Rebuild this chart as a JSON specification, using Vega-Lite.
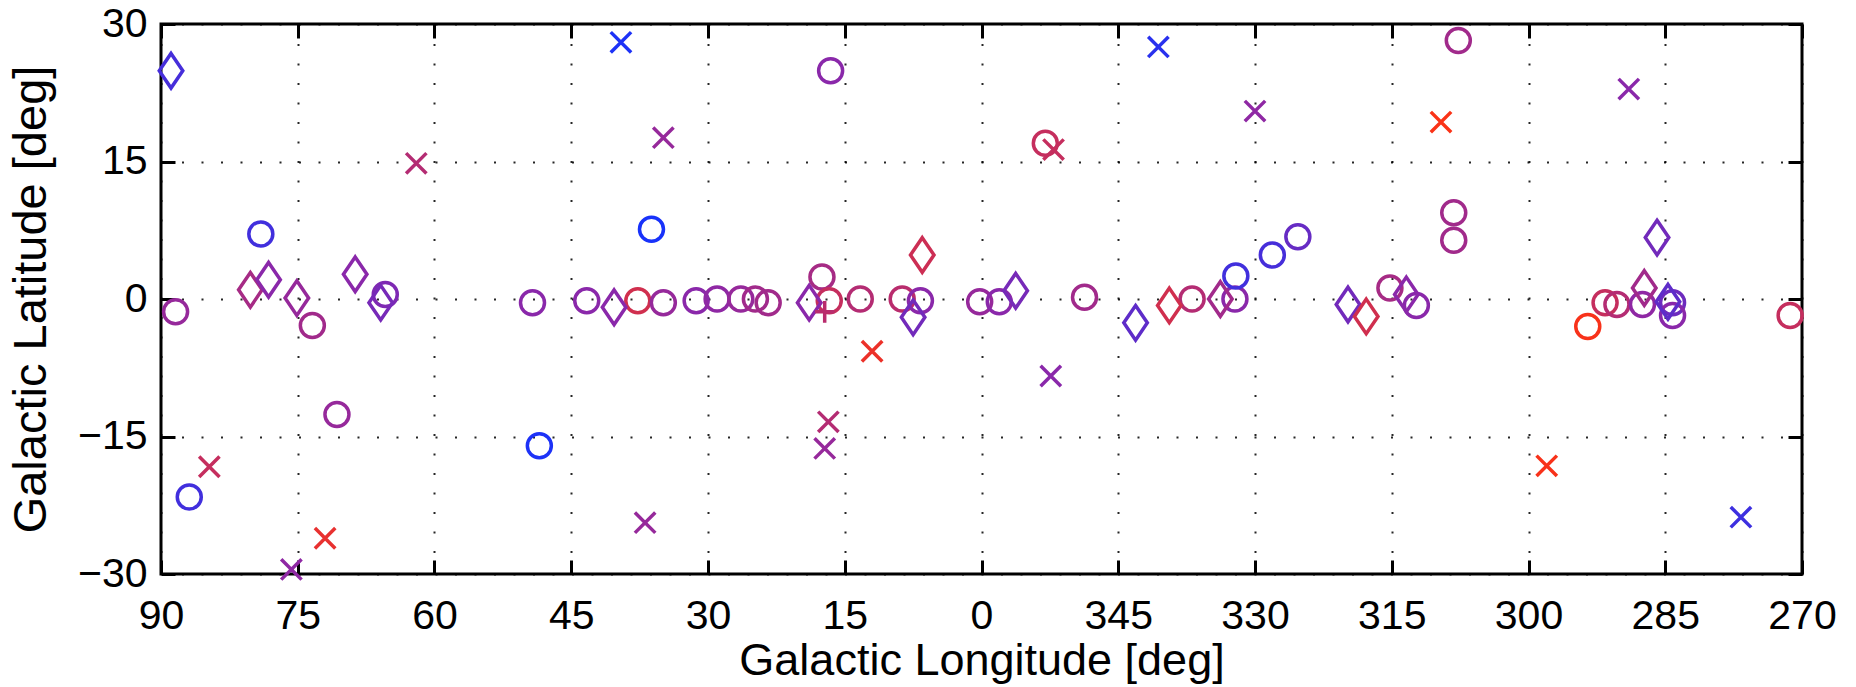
{
  "$schema": "https://vega.github.io/schema/vega-lite/v6.json",
  "width": 1641,
  "height": 550,
  "autosize": "none",
  "padding": {"left": 161, "top": 24, "right": 54, "bottom": 113},
  "background": "white",
  "config": {"view": {"stroke": "black", "strokeWidth": 3}, "font": "Liberation Sans"},
  "data": {"values": [
    {"lon": 88.4, "lat": -1.4, "marker": "circle", "t": 0.55},
    {"lon": 79.05, "lat": 7.1, "marker": "circle", "t": 0.2},
    {"lon": 73.4, "lat": -2.9, "marker": "circle", "t": 0.6},
    {"lon": 70.7, "lat": -12.6, "marker": "circle", "t": 0.55},
    {"lon": 65.4, "lat": 0.5, "marker": "circle", "t": 0.45},
    {"lon": 86.9, "lat": -21.6, "marker": "circle", "t": 0.2},
    {"lon": 49.25, "lat": -0.4, "marker": "circle", "t": 0.5},
    {"lon": 48.5, "lat": -16.0, "marker": "circle", "t": 0.05},
    {"lon": 43.3, "lat": -0.2, "marker": "circle", "t": 0.5},
    {"lon": 37.7, "lat": -0.2, "marker": "circle", "t": 0.8},
    {"lon": 36.2, "lat": 7.6, "marker": "circle", "t": 0.03},
    {"lon": 34.9, "lat": -0.4, "marker": "circle", "t": 0.55},
    {"lon": 31.3, "lat": -0.2, "marker": "circle", "t": 0.5},
    {"lon": 29.0, "lat": 0.0, "marker": "circle", "t": 0.52},
    {"lon": 26.4, "lat": 0.0, "marker": "circle", "t": 0.55},
    {"lon": 24.8, "lat": 0.0, "marker": "circle", "t": 0.6},
    {"lon": 23.4, "lat": -0.4, "marker": "circle", "t": 0.6},
    {"lon": 17.5, "lat": 2.4, "marker": "circle", "t": 0.62},
    {"lon": 16.7, "lat": -0.2, "marker": "circle", "t": 0.75},
    {"lon": 16.55, "lat": 24.9, "marker": "circle", "t": 0.5},
    {"lon": 13.3, "lat": 0.0, "marker": "circle", "t": 0.68},
    {"lon": 8.7, "lat": 0.0, "marker": "circle", "t": 0.7},
    {"lon": 6.7, "lat": -0.2, "marker": "circle", "t": 0.5},
    {"lon": 0.2, "lat": -0.3, "marker": "circle", "t": 0.55},
    {"lon": -1.95, "lat": -0.3, "marker": "circle", "t": 0.5},
    {"lon": -7.0, "lat": 17.0, "marker": "circle", "t": 0.75},
    {"lon": -11.3, "lat": 0.2, "marker": "circle", "t": 0.6},
    {"lon": -23.1, "lat": 0.0, "marker": "circle", "t": 0.68},
    {"lon": -27.8, "lat": 0.0, "marker": "circle", "t": 0.5},
    {"lon": -27.9, "lat": 2.5, "marker": "circle", "t": 0.2},
    {"lon": -31.9, "lat": 4.8, "marker": "circle", "t": 0.22},
    {"lon": -34.7, "lat": 6.8, "marker": "circle", "t": 0.35},
    {"lon": -44.8, "lat": 1.2, "marker": "circle", "t": 0.62},
    {"lon": -47.7, "lat": -0.7, "marker": "circle", "t": 0.5},
    {"lon": -51.8, "lat": 9.4, "marker": "circle", "t": 0.6},
    {"lon": -51.8, "lat": 6.4, "marker": "circle", "t": 0.6},
    {"lon": -52.3, "lat": 28.2, "marker": "circle", "t": 0.6},
    {"lon": -66.5, "lat": -3.0, "marker": "circle", "t": 0.97},
    {"lon": -68.4, "lat": -0.4, "marker": "circle", "t": 0.75},
    {"lon": -69.7, "lat": -0.6, "marker": "circle", "t": 0.68},
    {"lon": -72.5, "lat": -0.6, "marker": "circle", "t": 0.52},
    {"lon": -75.8, "lat": -0.4, "marker": "circle", "t": 0.38},
    {"lon": -75.8, "lat": -1.8, "marker": "circle", "t": 0.5},
    {"lon": -88.7, "lat": -1.8, "marker": "circle", "t": 0.75},
    {"lon": 88.9, "lat": 24.9, "marker": "diamond", "t": 0.22},
    {"lon": 80.2, "lat": 1.0, "marker": "diamond", "t": 0.62},
    {"lon": 78.2, "lat": 2.1, "marker": "diamond", "t": 0.5},
    {"lon": 75.1, "lat": 0.1, "marker": "diamond", "t": 0.55},
    {"lon": 68.7, "lat": 2.7, "marker": "diamond", "t": 0.5},
    {"lon": 65.9, "lat": -0.4, "marker": "diamond", "t": 0.42},
    {"lon": 40.3, "lat": -0.9, "marker": "diamond", "t": 0.5},
    {"lon": 18.9, "lat": -0.4, "marker": "diamond", "t": 0.5},
    {"lon": 7.5, "lat": -2.0, "marker": "diamond", "t": 0.4},
    {"lon": 6.5, "lat": 4.8, "marker": "diamond", "t": 0.78},
    {"lon": -3.75, "lat": 0.9, "marker": "diamond", "t": 0.42},
    {"lon": -16.9, "lat": -2.6, "marker": "diamond", "t": 0.32},
    {"lon": -20.6, "lat": -0.7, "marker": "diamond", "t": 0.8},
    {"lon": -26.2, "lat": 0.0, "marker": "diamond", "t": 0.6},
    {"lon": -40.2, "lat": -0.6, "marker": "diamond", "t": 0.4},
    {"lon": -42.2, "lat": -1.9, "marker": "diamond", "t": 0.8},
    {"lon": -46.6, "lat": 0.5, "marker": "diamond", "t": 0.5},
    {"lon": -72.7, "lat": 1.2, "marker": "diamond", "t": 0.6},
    {"lon": -74.1, "lat": 6.7, "marker": "diamond", "t": 0.4},
    {"lon": -75.3, "lat": -0.3, "marker": "diamond", "t": 0.32},
    {"lon": 84.7, "lat": -18.3, "marker": "x", "t": 0.75},
    {"lon": 75.7, "lat": -29.5, "marker": "x", "t": 0.52},
    {"lon": 72.0, "lat": -26.1, "marker": "x", "t": 0.9},
    {"lon": 62.0, "lat": 14.8, "marker": "x", "t": 0.68},
    {"lon": 39.55, "lat": 28.0, "marker": "x", "t": 0.05},
    {"lon": 36.9, "lat": -24.4, "marker": "x", "t": 0.55},
    {"lon": 34.9, "lat": 17.6, "marker": "x", "t": 0.55},
    {"lon": 16.8, "lat": -13.4, "marker": "x", "t": 0.68},
    {"lon": 17.2, "lat": -16.3, "marker": "x", "t": 0.55},
    {"lon": 12.0, "lat": -5.7, "marker": "x", "t": 0.92},
    {"lon": -7.9, "lat": 16.3, "marker": "x", "t": 0.75},
    {"lon": -7.6, "lat": -8.4, "marker": "x", "t": 0.5},
    {"lon": -19.4, "lat": 27.5, "marker": "x", "t": 0.1},
    {"lon": -30.0, "lat": 20.5, "marker": "x", "t": 0.52},
    {"lon": -50.4, "lat": 19.3, "marker": "x", "t": 0.98},
    {"lon": -62.0, "lat": -18.2, "marker": "x", "t": 0.97},
    {"lon": -71.0, "lat": 22.9, "marker": "x", "t": 0.5},
    {"lon": -83.3, "lat": -23.8, "marker": "x", "t": 0.18},
    {"lon": 17.2, "lat": -1.4, "marker": "plus", "t": 0.7}
  ]},
  "layer": [
    {
      "mark": {"type": "point", "filled": false, "strokeWidth": 3.5, "size": 576, "opacity": 1},
      "encoding": {
        "x": {
          "field": "lon", "type": "quantitative",
          "scale": {"domain": [-90, 90], "reverse": true, "nice": false, "zero": false},
          "axis": {
            "values": [90, 75, 60, 45, 30, 15, 0, -15, -30, -45, -60, -75, -90],
            "labelExpr": "datum.value < 0 ? datum.value + 360 : datum.value",
            "title": "Galactic Longitude [deg]",
            "titleFont": "Liberation Sans", "titleFontSize": 45, "titleFontWeight": "normal", "titleColor": "black", "titlePadding": 2,
            "labelFont": "Liberation Sans", "labelFontSize": 41, "labelColor": "black", "labelPadding": 36, "labelFlush": false, "labelOverlap": false,
            "tickSize": -14, "tickWidth": 3, "tickColor": "black",
            "domain": false,
            "grid": true, "gridDash": [2, 17.5], "gridColor": "black", "gridWidth": 2, "gridOpacity": 0.85
          }
        },
        "y": {
          "field": "lat", "type": "quantitative",
          "scale": {"domain": [-30, 30], "nice": false, "zero": false},
          "axis": {
            "values": [-30, -15, 0, 15, 30],
            "title": "Galactic Latitude [deg]",
            "titleFont": "Liberation Sans", "titleFontSize": 47, "titleFontWeight": "normal", "titleColor": "black", "titlePadding": 22,
            "labelFont": "Liberation Sans", "labelFontSize": 41, "labelColor": "black", "labelPadding": 28, "labelFlush": false, "labelOverlap": false,
            "tickSize": -14, "tickWidth": 3, "tickColor": "black",
            "domain": false,
            "grid": true, "gridDash": [2, 17.5], "gridColor": "black", "gridWidth": 2, "gridOpacity": 0.85
          }
        },
        "shape": {
          "field": "marker", "type": "nominal",
          "scale": {
            "domain": ["circle", "diamond", "x", "plus"],
            "range": ["circle", "M0,-1.44L0.98,0L0,1.44L-0.98,0Z", "M-0.85,-0.85L0.85,0.85M-0.85,0.85L0.85,-0.85", "M-0.8,0L0.8,0M0,-0.9L0,0.9"]
          },
          "legend": null
        },
        "color": {
          "field": "t", "type": "quantitative",
          "scale": {"domain": [0, 0.5, 1], "range": ["#1133ff", "#8a28aa", "#ff3311"], "interpolate": "rgb"},
          "legend": null
        }
      }
    },
    {
      "mark": {"type": "point", "opacity": 0},
      "encoding": {
        "x": {
          "field": "lon", "type": "quantitative",
          "axis": {
            "orient": "top", "values": [90, 75, 60, 45, 30, 15, 0, -15, -30, -45, -60, -75, -90],
            "labels": false, "title": null, "domain": false, "grid": false,
            "tickSize": -14, "tickWidth": 3, "tickColor": "black"
          }
        },
        "y": {
          "field": "lat", "type": "quantitative",
          "axis": {
            "orient": "right", "values": [-30, -15, 0, 15, 30],
            "labels": false, "title": null, "domain": false, "grid": false,
            "tickSize": -14, "tickWidth": 3, "tickColor": "black"
          }
        }
      }
    }
  ],
  "resolve": {"axis": {"x": "independent", "y": "independent"}}
}
